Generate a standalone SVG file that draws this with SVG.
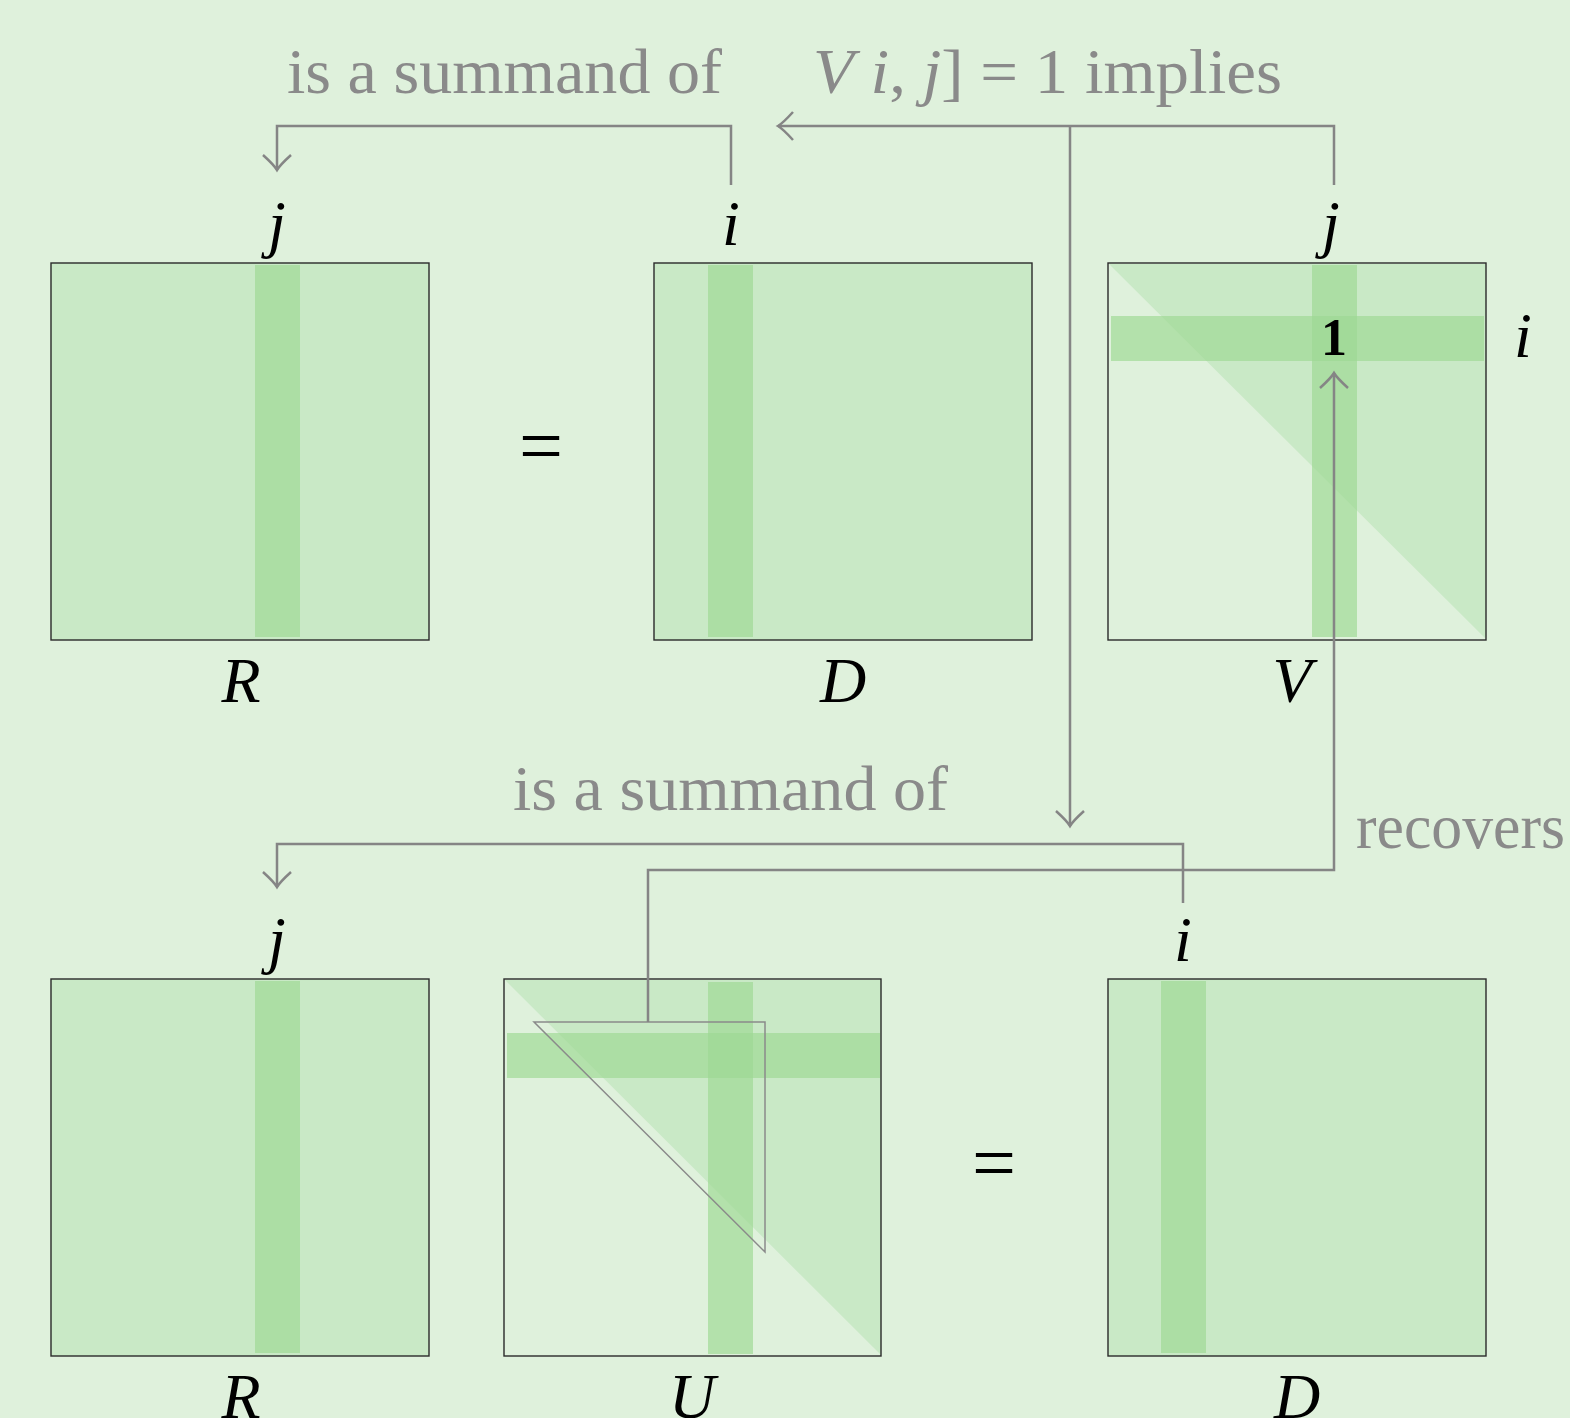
<svg xmlns="http://www.w3.org/2000/svg" width="1570" height="1418" viewBox="0 0 1570 1418">
<style>
.bg{fill:#dff1dc}
.mat{fill:#c9e9c6}
.frame{fill:none;stroke:#2a2a2a;stroke-width:1.4}
.strip{fill:#9ed993;fill-opacity:0.68}
.conn{fill:none;stroke:#858585;stroke-width:2.5}
.thin{fill:none;stroke:#8a8a8a;stroke-width:1.5}
.lbl{font-family:"Liberation Serif","DejaVu Serif",serif;font-size:64px;font-style:italic;fill:#000;text-anchor:middle}
.op{font-family:"Liberation Serif","DejaVu Serif",serif;font-size:78px;fill:#000;text-anchor:middle}
.note{font-family:"Liberation Serif","DejaVu Serif",serif;font-size:64px;fill:#8a8a8a}
.it{font-style:italic}
</style>
<defs>
<marker id="arr" markerUnits="userSpaceOnUse" markerWidth="40" markerHeight="40" viewBox="-20 -20 40 40" refX="0" refY="0" orient="auto">
<path d="M-15,-14 Q-5,-3 0,0 Q-5,3 -15,14" fill="none" stroke="#858585" stroke-width="2.5"/>
</marker>
</defs>
<rect class="bg" x="0" y="0" width="1570" height="1418"/>

<g id="R-top">
<rect class="mat" x="51" y="263" width="378" height="377"/>
<rect class="strip" x="255" y="265" width="45" height="372"/>
<rect class="frame" x="51" y="263" width="378" height="377"/>
<text class="lbl" x="277" y="245">j</text>
<text class="lbl" x="241" y="702">R</text>
</g>

<g id="eq-top"><text class="op" x="541" y="472">=</text></g>

<g id="D-top">
<rect class="mat" x="654" y="263" width="378" height="377"/>
<rect class="strip" x="708" y="265" width="45" height="372"/>
<rect class="frame" x="654" y="263" width="378" height="377"/>
<text class="lbl" x="731" y="245">i</text>
<text class="lbl" x="843" y="702">D</text>
</g>

<g id="V-top">
<polygon class="mat" points="1109,264 1486,264 1486,639"/>
<rect class="strip" x="1312" y="265" width="45" height="372"/>
<rect class="strip" x="1111" y="316" width="373" height="45"/>
<rect class="frame" x="1108" y="263" width="378" height="377"/>
<text x="1334" y="355" style="font-family:'Liberation Serif','DejaVu Serif',serif;font-size:52px;font-weight:bold;text-anchor:middle;fill:#000">1</text>
<text class="lbl" x="1523" y="357">i</text>
<text class="lbl" x="1331" y="245">j</text>
<text class="lbl" x="1292" y="702">V</text>
</g>

<g id="R-bot">
<rect class="mat" x="51" y="979" width="378" height="377"/>
<rect class="strip" x="255" y="981" width="45" height="372"/>
<rect class="frame" x="51" y="979" width="378" height="377"/>
<text class="lbl" x="277" y="961">j</text>
<text class="lbl" x="241" y="1418">R</text>
</g>

<g id="U-bot">
<polygon class="mat" points="505,980 881,980 881,1355"/>
<rect class="strip" x="708" y="982" width="45" height="372"/>
<rect class="strip" x="507" y="1033" width="373" height="45"/>
<rect class="frame" x="504" y="979" width="377" height="377"/>
<polygon class="thin" points="534,1022 765,1022 765,1252"/>
<text class="lbl" x="692" y="1418">U</text>
</g>

<g id="eq-bot"><text class="op" x="994" y="1189">=</text></g>

<g id="D-bot">
<rect class="mat" x="1108" y="979" width="378" height="377"/>
<rect class="strip" x="1161" y="981" width="45" height="372"/>
<rect class="frame" x="1108" y="979" width="378" height="377"/>
<text class="lbl" x="1183" y="961">i</text>
<text class="lbl" x="1297" y="1418">D</text>
</g>

<g id="connectors">
<path class="conn" d="M731,185 V126 H277 V170" marker-end="url(#arr)"/>
<path class="conn" d="M1334,185 V126 H778" marker-end="url(#arr)"/>
<path class="conn" d="M1070,126 V826" marker-end="url(#arr)"/>
<path class="conn" d="M1183,903 V844 H277 V887" marker-end="url(#arr)"/>
<path class="conn" d="M648,1022 V870 H1334 V373" marker-end="url(#arr)"/>
</g>

<g id="labels">
<text class="note" x="287" y="93" textLength="435" lengthAdjust="spacingAndGlyphs">is a summand of</text>
<text class="note" x="813" y="93" textLength="469" lengthAdjust="spacingAndGlyphs"><tspan class="it">V</tspan><tspan> </tspan><tspan class="it">i</tspan><tspan>, </tspan><tspan class="it">j</tspan><tspan>] = 1 implies</tspan></text>
<text class="note" x="513" y="810" textLength="435" lengthAdjust="spacingAndGlyphs">is a summand of</text>
<text class="note" x="1356" y="848" textLength="209" lengthAdjust="spacingAndGlyphs">recovers</text>
</g>
</svg>
